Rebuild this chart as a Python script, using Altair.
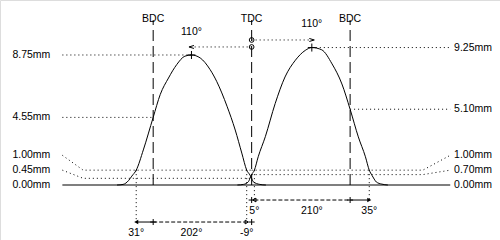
import altair as alt
import pandas as pd

# ---------------- data ----------------
# crank angle in degrees (overlap TDC = 0), valve lift in mm
exh_angle = [-246, -235, -225, -219, -211, -198, -180, -167, -152, -137, -122, -110,
             -94, -76, -64, -45, -30, -18, -9, -3, 0, 3, 15, 26]
exh_lift = [0.0, 0.04, 0.3, 0.6, 1.0, 2.36, 4.55, 6.1, 7.2, 8.1, 8.67, 8.75,
            8.55, 7.77, 6.98, 5.3, 3.7, 2.15, 1.0, 0.67, 0.45, 0.22, 0.04, 0.0]
int_angle = [-26, -15, -6, -3, 0, 5, 12, 25, 43, 61, 80, 98, 110, 128, 147, 165,
             180, 195, 208, 215, 220, 224, 228, 238, 249]
int_lift = [0.0, 0.04, 0.22, 0.45, 0.7, 1.0, 1.9, 3.25, 5.48, 7.27, 8.4, 9.06, 9.25,
            9.1, 8.15, 6.8, 5.1, 3.24, 1.9, 1.0, 0.65, 0.4, 0.2, 0.06, 0.0]

ref_angle = [-180, 0, 180]
ref_name = ["BDC", "TDC", "BDC"]

peak_angle = [-110, 110]          # centrelines
peak_lift = [8.75, 9.25]
peak_text = ["110°", "110°"]

# opening / closing at 1 mm, durations
exh_events = [-211, -9]
exh_texts = ["31°", "202°", "-9°"]
int_events = [5, 215]
int_texts = ["5°", "210°", "35°"]

left_vals = [8.75, 4.55, 1.00, 0.45, 0.00]
right_vals = [9.25, 5.10, 1.00, 0.70, 0.00]

# ---------------- layout (positions only) ----------------
X_DOM = [-460, 454]
Y_DOM = [-3.70, 12.45]
FONT = "Liberation Sans"
FS = 10.5
L_TAG = -368      # angle where left tags end
R_TAG = 370       # angle where right tags start
L_LEAD = -346
R_LEAD = 363
L_KNEE = -308
R_KNEE = 313
left_tag_pos = [8.75, 4.55, 2.0, 1.0, 0.0]
right_tag_pos = [9.25, 5.10, 2.0, 1.0, 0.0]
TOP_LINE = 11.1
REF_LABEL = 11.2
EXH_ROW, EXH_LAB = -2.49, -3.25
INT_ROW, INT_LAB = -1.01, -1.75
EXH_ARROW, INT_ARROW = 9.29, 9.76
EXH_110, INT_110 = 10.3, 10.83

xs = alt.Scale(domain=X_DOM, nice=False, zero=False)
ys = alt.Scale(domain=Y_DOM, nice=False, zero=False)


def X(f="a"):
    return alt.X(f"{f}:Q", scale=xs, axis=None)


def Y(f="l"):
    return alt.Y(f"{f}:Q", scale=ys, axis=None)


# curves
curves = pd.DataFrame(
    {"a": exh_angle + int_angle,
     "l": exh_lift + int_lift,
     "cam": ["exh"] * len(exh_angle) + ["int"] * len(int_angle),
     "o": list(range(len(exh_angle))) + list(range(len(int_angle)))})
curve_layer = alt.Chart(curves).mark_line(
    color="black", strokeWidth=1, interpolate="monotone").encode(
    x=X(), y=Y(), detail="cam:N", order="o:Q")

# baseline
base = alt.Chart(pd.DataFrame({"a": [L_LEAD], "a2": [R_LEAD], "l": [0.0]})).mark_rule(
    color="black", strokeWidth=1.2).encode(x=X(), x2="a2:Q", y=Y())

# vertical dashed reference lines
refs = pd.DataFrame({"a": ref_angle, "name": ref_name, "l": [0.0] * 3,
                     "l2": [TOP_LINE] * 3, "ly": [REF_LABEL] * 3})
ref_lines = alt.Chart(refs).mark_rule(color="black", strokeWidth=1,
                                      strokeDash=[11, 5]).encode(x=X(), y=Y(), y2="l2:Q")
ref_text = alt.Chart(refs).mark_text(font=FONT, fontSize=FS, color="black",
                                     baseline="middle").encode(x=X(), y=Y("ly"), text="name:N")

# dotted leader lines (polylines)
seg = []


def add(k, pts):
    for i, (a, l) in enumerate(pts):
        seg.append({"k": k, "o": i, "a": a, "l": l})


add("l0", [(L_LEAD, left_tag_pos[0]), (peak_angle[0], left_vals[0])])
add("l1", [(L_LEAD, left_tag_pos[1]), (ref_angle[0], left_vals[1])])
add("l2", [(L_LEAD, left_tag_pos[2]), (L_KNEE, left_vals[2]), (0, left_vals[2])])
add("l3", [(L_LEAD, left_tag_pos[3]), (L_KNEE, left_vals[3]), (0, left_vals[3])])
add("r0", [(peak_angle[1], right_vals[0]), (R_LEAD, right_tag_pos[0])])
add("r1", [(ref_angle[2], right_vals[1]), (R_LEAD, right_tag_pos[1])])
add("r2", [(0, right_vals[2]), (R_KNEE, right_vals[2]), (R_LEAD, right_tag_pos[2])])
add("r3", [(0, right_vals[3]), (R_KNEE, right_vals[3]), (R_LEAD, right_tag_pos[3])])
# centreline arrows
add("c0", [(0, EXH_ARROW), (peak_angle[0], EXH_ARROW)])
add("c1", [(0, INT_ARROW), (peak_angle[1], INT_ARROW)])
# drop lines from 1 mm points
add("d0", [(exh_events[0], 1.0), (exh_events[0], EXH_ROW)])
add("d1", [(exh_events[1], 1.0), (exh_events[1], EXH_ROW)])
add("d2", [(int_events[0], 1.0), (int_events[0], INT_ROW)])
add("d3", [(int_events[1], 1.0), (int_events[1], INT_ROW)])
dots = alt.Chart(pd.DataFrame(seg)).mark_line(
    color="black", strokeWidth=1, strokeDash=[1, 3]).encode(
    x=X(), y=Y(), detail="k:N", order="o:Q")

# side tags
tags_l = pd.DataFrame({"a": [L_TAG] * 5, "l": left_tag_pos,
                       "t": [f"{v:.2f}mm" for v in left_vals]})
tags_r = pd.DataFrame({"a": [R_TAG] * 5, "l": right_tag_pos,
                       "t": [f"{v:.2f}mm" for v in right_vals]})
tag_l = alt.Chart(tags_l).mark_text(font=FONT, fontSize=FS, align="right",
                                    baseline="middle", color="black").encode(x=X(), y=Y(), text="t:N")
tag_r = alt.Chart(tags_r).mark_text(font=FONT, fontSize=FS, align="left",
                                    baseline="middle", color="black").encode(x=X(), y=Y(), text="t:N")

# peak crosses
PLUS = "M-1,0L1,0M0,-1L0,1"
peaks = pd.DataFrame({"a": peak_angle, "l": peak_lift})
peak_mk = alt.Chart(peaks).mark_point(shape=PLUS, size=64, color="black", filled=False,
                                      strokeWidth=1, opacity=1).encode(x=X(), y=Y())

# centreline arrowheads, TDC circles, 110° labels
heads = pd.DataFrame({"a": peak_angle, "l": [EXH_ARROW, INT_ARROW],
                      "s": ["M1,-0.6L-1,0L1,0.6", "M-1,-0.6L1,0L-1,0.6"]})
head_mk = alt.Chart(heads).mark_point(size=25, color="black", filled=False, strokeWidth=1,
                                      opacity=1).encode(x=X(), y=Y(), shape=alt.Shape("s:N", scale=None))
circ = alt.Chart(pd.DataFrame({"a": [0, 0], "l": [EXH_ARROW, INT_ARROW]})).mark_point(
    shape="circle", size=22, color="black", filled=False, strokeWidth=1, opacity=1).encode(x=X(), y=Y())
c_text = alt.Chart(pd.DataFrame({"a": peak_angle, "l": [EXH_110, INT_110], "t": peak_text})).mark_text(
    font=FONT, fontSize=FS, baseline="middle", color="black").encode(x=X(), y=Y(), text="t:N")

# duration rows
rows_solid = pd.DataFrame({"a": [exh_events[0], ref_angle[2]],
                           "a2": [ref_angle[0], int_events[1]],
                           "l": [EXH_ROW, INT_ROW]})
rows_dash = pd.DataFrame({"a": [ref_angle[0], int_events[0]],
                          "a2": [exh_events[1], ref_angle[2]],
                          "l": [EXH_ROW, INT_ROW]})
r_solid = alt.Chart(rows_solid).mark_rule(color="black", strokeWidth=1).encode(
    x=X(), x2="a2:Q", y=Y())
r_dash = alt.Chart(rows_dash).mark_rule(color="black", strokeWidth=1, strokeDash=[4, 2]).encode(
    x=X(), x2="a2:Q", y=Y())
ticks = pd.DataFrame({"a": [ref_angle[0], 0, 0, ref_angle[2]],
                      "l": [EXH_ROW, EXH_ROW, INT_ROW, INT_ROW]})
tick_mk = alt.Chart(ticks).mark_point(shape=PLUS, size=36, color="black", filled=False,
                                      strokeWidth=1, opacity=1).encode(x=X(), y=Y())
fill_heads = pd.DataFrame({"a": [exh_events[0], int_events[1]], "l": [EXH_ROW, INT_ROW],
                           "s": ["triangle-left", "triangle-right"]})
fh = alt.Chart(fill_heads).mark_point(size=22, color="black", filled=True, opacity=1).encode(
    x=X(), y=Y(), shape=alt.Shape("s:N", scale=None))
open_heads = pd.DataFrame({"a": [exh_events[1], int_events[0]], "l": [EXH_ROW, INT_ROW],
                           "s": ["triangle-right", "triangle-left"]})
oh = alt.Chart(open_heads).mark_point(size=14, color="black", filled=False, strokeWidth=1,
                                      opacity=1).encode(x=X(), y=Y(), shape=alt.Shape("s:N", scale=None))
row_txt = pd.DataFrame({
    "a": [exh_events[0], (exh_events[0] + exh_events[1]) / 2, exh_events[1],
          int_events[0], (int_events[0] + int_events[1]) / 2, int_events[1]],
    "l": [EXH_LAB] * 3 + [INT_LAB] * 3,
    "t": exh_texts + int_texts})
rt = alt.Chart(row_txt).mark_text(font=FONT, fontSize=FS, baseline="middle", color="black").encode(
    x=X(), y=Y(), text="t:N")

chart = alt.layer(
    dots, base, ref_lines, curve_layer, ref_text, tag_l, tag_r, peak_mk, head_mk, circ, c_text,
    r_solid, r_dash, tick_mk, fh, oh, rt
).properties(
    width=500, height=240, padding=0,
    autosize=alt.AutoSizeParams(type="none")
).configure_view(stroke=None).configure(background="white")

chart.save("out.html", embed_options={"renderer": "svg", "actions": False})
